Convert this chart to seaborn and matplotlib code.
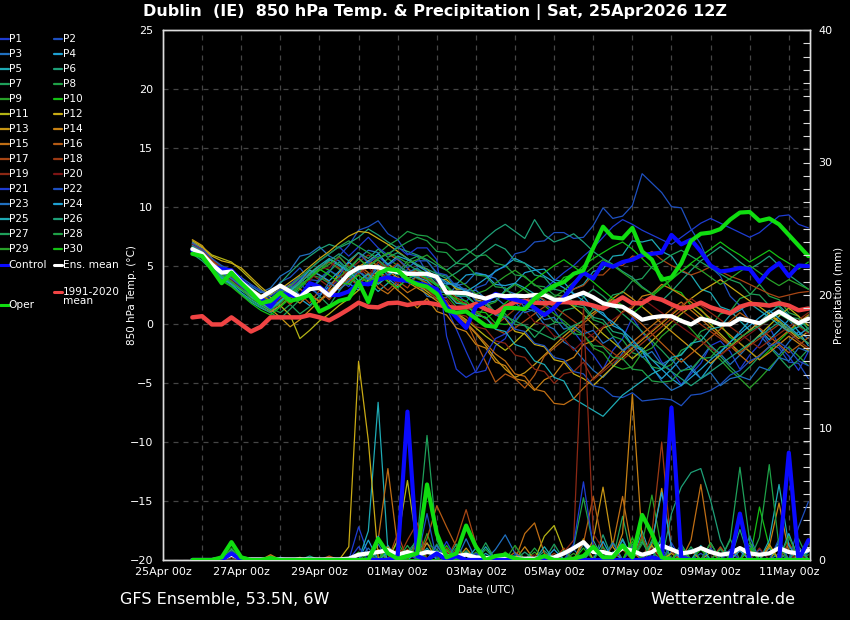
import numpy as np
import pandas as pd
import matplotlib
matplotlib.use("Agg")
import matplotlib.pyplot as plt
import matplotlib.dates as mdates
from matplotlib.lines import Line2D
from matplotlib.ticker import MultipleLocator
import seaborn as sns

# ---------------- data ----------------
start_time = "2026-04-25 18:00"   # first forecast step, 6-hourly
n_steps = 64
tick_labels = ["25Apr 00z", "27Apr 00z", "29Apr 00z", "01May 00z", "03May 00z",
               "05May 00z", "07May 00z", "09May 00z", "11May 00z"]
tick_dates = ["2026-04-25", "2026-04-27", "2026-04-29", "2026-05-01", "2026-05-03",
              "2026-05-05", "2026-05-07", "2026-05-09", "2026-05-11"]

t_clim = [0.6,0.7,0.0,0.0,0.6,0.0,-0.6,-0.2, 0.6,0.6,0.6,0.6,0.8,0.6,0.35,0.8,
          1.3,1.85,1.5,1.45,1.8,1.85,1.65,1.8, 1.85,1.7,1.5,1.4,1.45,1.75,1.3,1.0,
          1.5,1.9,2.0,1.85,1.8,1.85,1.9,1.85, 1.8,1.6,1.35,1.8,2.3,1.8,1.8,2.3,
          2.1,1.7,1.35,1.5,1.85,1.45,1.2,0.95, 1.5,1.75,1.7,1.6,1.8,1.6,1.2,1.35]
t_mean = [6.4,6.0,5.1,4.4,4.5,3.6,2.9,2.3, 2.8,3.3,2.8,2.3,3.0,3.1,2.45,3.4,
          4.3,4.8,4.9,4.85,4.6,4.45,4.3,4.3, 4.3,4.05,2.7,2.7,2.65,2.4,2.2,2.5,
          2.4,2.45,2.4,2.5,2.5,2.1,2.1,2.4, 2.7,2.3,1.8,1.6,1.5,1.0,0.4,0.6,
          0.7,0.7,0.3,0.0,0.5,0.3,0.0,0.0, 0.5,0.3,0.1,0.6,1.1,0.6,0.1,0.5]
t_ctrl = [6.3,5.8,5.0,4.7,4.6,3.7,2.9,2.2, 1.5,2.6,2.5,2.3,3.5,3.2,2.5,2.5,
          2.8,3.5,3.4,3.8,4.0,3.8,3.7,3.5, 3.3,3.0,1.5,0.6,-0.3,1.5,1.9,2.6,
          2.3,2.1,1.9,1.4,0.8,1.4,2.3,3.4, 4.4,3.9,5.2,4.9,5.3,5.5,5.9,6.0,
          6.1,7.6,6.8,7.2,6.2,5.0,4.5,4.6, 4.8,4.7,3.6,4.6,5.2,4.1,5.0,4.95]
t_oper = [6.0,5.8,4.7,3.5,4.4,3.5,2.7,1.8, 2.0,2.7,2.0,2.2,2.5,1.1,1.5,2.0,
          2.2,3.6,1.9,4.3,4.7,4.6,3.8,3.4, 3.2,2.6,1.2,1.0,1.1,0.5,-0.1,-0.2,
          1.4,1.4,1.3,2.2,2.8,3.3,3.6,4.3, 4.6,6.5,8.3,7.4,7.3,8.2,6.2,5.5,
          3.8,4.0,5.2,7.1,7.7,7.8,8.1,8.9, 9.5,9.55,8.8,9.0,8.5,7.6,6.7,5.8]

r_mean = [0,0,0,0.1,0.4,0.1,0.05,0.05, 0.05,0.05,0.05,0.05,0.05,0.05,0.05,0.05,
          0.1,0.4,0.5,0.6,0.75,0.4,0.6,0.4, 0.6,0.5,0.25,0.3,0.4,0.2,0.15,0.1,
          0.15,0.1,0.1,0.1,0.1,0.2,0.5,0.9, 1.35,0.6,0.6,0.4,0.9,0.7,0.4,0.6,
          1.1,0.8,0.5,0.6,0.9,0.6,0.4,0.5, 0.9,0.5,0.4,0.5,0.9,0.6,0.5,0.75]
r_ctrl = [0,0,0,0,0.5,0,0,0, 0,0,0,0,0,0,0,0, 0,0,0,0,0,0.3,11.2,0.3, 0,0.5,0,0.3,0,0,0,0,
          0,0,0,0,0,0,0,0, 0,0,0,0,0,0,0,0.2, 0,11.5,0.2,0,0,0,0,0, 3.5,0,0,0,0,8.1,0,1.5]
r_oper = [0,0,0,0.2,1.35,0.2,0,0, 0.15,0,0,0,0,0,0,0, 0,0,0,1.6,0.5,0.1,0.3,0.5,
          5.7,2.0,0.2,0.5,2.6,1.0,0,0.3, 0.4,0.1,0,0,0.3,0,0,0.1, 0.3,1.0,0.2,0.2,1.1,0.2,3.4,2.0,
          0.2,0,0,0,0,0,0,0, 0,0,0,0,0,0,0,0]

t_p01 = [6.8,6.2,5.3,4.6,4.2,3.5,3.0,2.4, 2.2,2.9,3.4,4.1,3.0,2.6,3.1,3.8, 3.2,4.6,3.9,5.1,4.2,3.4,4.7,4.3,
         3.0,2.7,1.4,-0.4,-2.3,-4.1,-3.9,-1.8, -1.2,0.7,1.6,2.5,1.7,1.2,0.0,-0.6, -1.7,-2.6,-3.8,-2.2,-1.2,0.6,-0.7,-1.6,
         -3.2,-4.0,-5.1,-4.2,-3.3,-1.8,-1.4,-2.3, -3.8,-2.6,-1.7,-0.2,-1.8,-2.7,-3.9,-2.3]
t_p02 = [6.6,6.0,5.2,4.8,4.4,3.9,3.2,2.8, 2.5,3.6,4.0,4.8,3.8,3.7,4.4,5.8, 6.7,8.0,8.3,8.8,7.7,7.2,6.0,5.8,
         4.4,3.7,2.6,2.6,1.9,3.1,3.4,4.6, 4.9,6.0,6.2,7.0,7.1,7.8,7.8,7.3, 7.4,8.4,9.9,9.0,9.2,10.1,12.8,12.0,
         11.2,10.0,9.9,8.1,6.8,4.9,4.1,2.4, 1.6,0.3,-0.4,-1.6,-2.0,-3.2,-3.3,-4.6]
t_p03 = [7.0,6.5,5.6,4.5,4.0,3.6,3.3,2.7, 3.1,4.1,4.6,5.8,6.0,6.6,5.8,5.4, 4.6,5.6,6.3,6.1,4.9,4.6,3.7,3.5,
         2.4,2.2,2.3,3.3,3.5,4.4,4.2,3.9, 2.9,2.6,1.4,1.1,0.0,-0.4,-1.5,-2.0, -3.0,-3.9,-4.5,-3.6,-2.4,-1.5,-2.3,-3.6,
         -4.8,-5.6,-5.2,-4.0,-2.9,-1.8,-2.5,-3.4, -2.6,-1.7,-0.9,-1.8,-2.6,-1.5,-0.6,-1.2]
t_p04 = [6.9,6.3,5.0,4.2,3.8,3.0,2.4,1.8, 1.2,1.9,2.7,2.2,1.6,2.4,3.3,4.1, 3.5,2.9,3.8,4.6,3.9,3.2,3.9,4.2,
         3.9,3.3,3.5,3.4,4.2,4.3,4.2,3.4, 3.3,3.5,4.4,4.6,4.7,3.8,3.6,2.6, 2.4,1.3,1.0,-0.1,-0.5,-1.8,-2.2,-3.7,
         -4.6,-3.8,-2.9,-3.8,-4.6,-3.5,-2.4,-1.5, -0.6,0.3,-0.4,-1.3,-0.5,0.4,-0.6,-1.8]
t_p05 = [6.4,5.8,4.9,4.0,3.4,2.6,1.9,1.4, 1.0,1.6,2.3,3.2,4.0,4.8,5.5,5.0, 4.4,3.1,3.6,2.8,3.5,4.4,3.6,4.1,
         4.1,3.4,3.2,2.4,2.4,1.7,1.8,2.0, 2.9,3.5,3.1,2.6,2.0,1.5,2.2,3.0, 3.4,4.5,4.7,5.8,5.9,7.1,7.0,7.2,
         6.2,5.8,4.5,4.2,3.0,2.7,1.5,1.2, 0.3,-0.5,0.2,1.0,1.6,0.8,0.1,-0.7]
t_p06 = [6.0,5.4,4.6,4.0,3.5,2.9,2.4,2.0, 2.6,3.5,4.4,5.2,5.8,6.4,6.8,6.5, 6.9,7.4,8.1,7.6,7.0,6.5,6.2,5.9,
         5.5,5.0,4.6,5.2,5.9,6.5,7.3,8.0, 8.5,7.9,7.3,8.9,7.6,7.0,7.3,7.7, 7.0,6.2,5.6,5.1,4.5,4.0,3.2,2.6,
         2.0,2.8,3.7,4.6,5.4,6.0,6.6,6.0, 5.3,4.7,5.2,5.8,5.0,4.2,3.6,3.0]
t_p07 = [6.5,6.1,5.3,4.4,4.1,3.2,2.6,1.9, 1.4,1.0,1.7,0.9,1.5,2.4,1.6,2.8, 3.9,4.6,3.7,4.3,5.2,4.4,5.4,5.8,
         5.4,4.3,4.1,3.0,3.0,2.0,2.0,1.0, 0.9,0.0,-0.1,-1.1,-0.2,0.1,1.2,1.4, 2.3,3.0,2.4,1.6,0.9,0.2,-0.6,-1.4,
         -2.2,-3.1,-2.5,-1.7,-0.9,-1.8,-2.7,-3.6, -4.4,-3.6,-2.7,-1.9,-2.8,-3.7,-3.0,-2.1]
t_p08 = [6.2,5.9,5.1,4.6,4.0,3.4,2.8,2.1, 1.6,2.2,2.9,3.6,4.2,4.0,3.5,3.0, 3.6,4.4,5.2,6.0,6.7,7.2,7.9,7.6,
         7.5,7.0,6.9,6.3,6.4,5.8,5.9,5.2, 5.0,4.2,4.1,3.3,3.2,2.5,2.4,1.6, 1.4,0.4,0.1,-1.0,-1.3,-2.4,-2.7,-3.6,
         -3.8,-3.4,-2.2,-1.8,-0.6,-0.2,0.9,1.1, 2.2,2.5,3.4,2.4,2.1,1.0,0.7,-0.4]
t_p09 = [6.7,6.3,5.5,4.9,4.5,3.8,3.1,2.5, 2.0,1.5,2.2,3.0,3.9,4.6,5.3,4.7, 4.1,3.5,4.0,4.8,5.6,5.0,4.5,3.9,
         3.5,2.6,2.5,1.5,1.3,0.5,1.6,1.9, 2.8,3.4,2.9,2.3,1.6,0.9,0.3,-0.4, -0.9,-2.0,-2.4,-3.5,-3.8,-3.6,-2.4,-2.0,
         -1.0,-0.3,0.5,-0.4,-1.3,-2.2,-3.0,-3.9, -4.6,-5.4,-4.6,-3.7,-2.8,-1.9,-2.7,-3.5]
t_p10 = [6.3,5.7,4.8,4.2,3.7,3.1,2.5,2.0, 1.5,2.1,2.8,3.6,4.4,5.0,4.6,4.0, 4.7,3.6,4.4,3.5,4.2,5.1,4.3,4.7,
         4.3,3.4,3.2,2.2,2.0,1.1,1.0,0.1, 0.0,0.2,1.3,1.7,2.8,3.0,4.0,4.2, 5.0,5.6,6.1,6.6,7.0,6.4,5.6,4.8,
         4.2,3.0,2.7,1.6,1.3,0.3,0.0,-1.1, -1.6,-2.3,-3.0,-2.2,-1.4,-0.6,0.1,0.8]
t_p11 = [7.1,6.6,5.9,5.6,5.3,4.6,3.8,3.0, 2.3,1.6,0.8,-1.2,-0.5,0.3,0.9,1.6, 2.2,2.9,3.8,4.5,5.1,4.6,4.0,3.4,
         2.8,2.2,1.6,1.0,0.4,-0.3,-1.0,-1.6, -2.2,-1.5,-0.7,0.1,0.8,1.5,2.1,1.5, 0.8,0.0,-0.8,-1.5,-2.2,-2.9,-2.2,-1.4,
         -0.6,0.2,0.9,1.5,0.8,0.0,-0.8,-1.6, -2.4,-1.7,-0.9,-0.1,0.7,1.4,0.7,-0.1]
t_p12 = [6.9,6.5,5.8,5.4,5.2,4.8,4.0,3.2, 2.5,3.0,3.6,4.2,4.9,5.6,6.2,6.9, 7.5,7.9,7.8,7.3,6.8,6.2,5.6,5.0,
         4.7,3.8,3.8,3.0,3.0,2.1,1.9,0.8, 0.5,-0.6,-0.8,-1.7,-1.9,-3.0,-3.2,-4.2, -4.6,-5.2,-4.4,-3.6,-2.8,-2.0,-1.3,-0.6,
         0.1,0.8,1.5,2.2,2.8,3.3,3.8,3.2, 2.6,2.0,1.5,0.9,0.3,-0.4,-1.0,-1.6]
t_p13 = [7.2,6.7,5.6,4.7,4.2,3.5,2.7,2.0, 1.3,0.6,-0.2,0.4,1.2,2.0,2.8,3.6, 4.3,4.9,5.4,5.0,4.5,4.0,3.6,3.1,
         2.6,2.0,1.4,0.8,0.1,-0.8,-1.8,-2.9, -3.8,-4.5,-4.1,-3.4,-2.6,-1.8,-1.0,-0.3, 0.4,1.0,1.6,2.2,2.8,2.2,1.5,0.8,
         0.1,-0.6,-1.3,-2.0,-2.7,-3.3,-2.6,-1.9, -1.2,-0.5,0.2,0.8,0.2,-0.5,-1.2,-0.6]
t_p14 = [6.8,6.4,5.5,4.5,3.8,3.1,2.3,1.7, 1.1,1.6,2.4,1.8,2.6,1.9,3.0,4.4, 5.2,6.1,5.3,4.6,3.7,2.9,2.2,1.4,
         2.2,1.1,0.8,-0.3,-0.6,-1.7,-2.0,-3.2, -3.5,-4.6,-4.8,-5.6,-4.7,-4.3,-3.2,-2.8, -1.7,-1.4,-0.3,0.0,1.1,1.4,2.4,2.6,
         3.4,3.0,2.5,1.9,1.2,0.5,-0.2,-0.9, -1.6,-2.3,-3.0,-2.4,-1.7,-1.0,-1.6,-2.2]
t_p15 = [6.6,6.2,5.4,4.7,4.3,3.7,3.0,2.5, 2.0,2.6,3.4,3.0,2.5,2.0,2.6,3.4, 4.2,5.0,4.4,3.1,2.6,3.4,2.7,3.2,
         3.0,2.4,1.7,1.0,0.2,-0.7,-1.6,-2.5, -3.1,-4.2,-4.4,-5.5,-5.7,-6.7,-6.8,-6.3, -5.4,-4.6,-3.8,-3.0,-2.2,-1.5,-0.8,-0.1,
         0.6,1.3,1.9,1.2,0.5,-0.3,-1.0,-1.8, -2.6,-3.3,-2.6,-1.9,-1.2,-0.5,0.2,0.8]
t_p16 = [6.5,6.0,5.1,4.3,3.9,3.3,2.6,2.2, 1.8,2.4,3.2,4.0,4.6,4.2,3.6,3.0, 3.6,4.3,5.0,5.6,6.0,5.5,4.8,4.0,
         3.5,2.4,2.0,0.8,0.3,-1.5,-3.2,-4.9, -4.2,-4.6,-5.4,-4.3,-2.7,-2.0,-1.3,-0.6, 0.1,0.8,1.5,2.1,1.4,0.7,0.0,-0.8,
         -1.6,-2.4,-3.2,-2.5,-1.8,-1.1,-0.4,0.3, 1.0,0.4,-0.3,-1.0,-1.7,-2.4,-1.8,-1.1]
t_p17 = [6.7,6.3,5.3,4.6,4.1,3.4,2.9,2.3, 1.9,2.5,1.7,2.6,1.8,2.9,2.1,3.2, 3.9,3.3,4.4,3.6,2.9,3.7,3.1,4.2,
         3.8,2.9,2.8,1.9,1.8,0.8,0.6,-0.4, -0.8,-0.3,0.3,0.9,1.5,2.0,2.5,3.0, 3.3,4.2,4.2,5.0,5.0,5.8,5.7,6.2,
         5.5,5.0,4.6,4.2,4.5,4.9,4.5,4.1, 3.8,3.4,3.0,2.6,2.3,2.5,2.7,2.8]
t_p18 = [6.6,6.1,5.2,4.5,4.0,3.3,2.7,2.1, 1.6,2.2,3.0,3.7,4.3,4.9,5.3,4.8, 4.2,4.9,4.1,5.3,4.6,5.2,4.3,4.6,
         4.0,3.5,2.9,2.3,1.7,1.1,0.5,-0.1, 0.6,1.3,2.0,2.6,2.1,1.5,0.9,0.3, -0.4,-1.1,-1.8,-2.4,-3.0,-2.3,-1.6,-0.9,
         -0.2,0.5,1.2,0.6,0.0,-0.6,-1.2,-1.8, -2.4,-1.8,-1.2,-0.6,0.0,-0.7,-1.4,-2.0]
t_p19 = [6.8,6.4,5.5,4.8,4.3,3.6,3.0,2.4, 1.8,2.4,3.1,3.7,4.3,3.8,3.2,3.9, 4.6,5.3,5.9,5.4,4.9,4.4,3.9,3.4,
         3.0,2.1,1.9,0.9,0.7,-0.2,-0.4,-1.4, -1.6,-2.6,-2.8,-3.8,-4.0,-5.0,-4.2,-4.0, -3.2,-4.7,-4.0,-3.3,-2.6,-1.9,-1.2,-0.5,
         0.2,0.9,1.6,2.2,1.6,1.0,0.4,-0.2, -0.8,-1.4,-2.0,-1.4,-0.8,-0.2,0.4,1.0]
t_p20 = [6.5,5.9,5.0,4.3,3.8,3.1,2.5,2.0, 1.5,2.2,2.4,3.5,3.7,4.7,4.8,5.7, 5.0,4.2,4.9,3.8,4.4,3.5,4.0,3.5,
         3.2,2.3,2.2,1.3,1.2,1.4,2.4,2.6, 2.4,1.4,1.2,0.2,0.0,-1.0,-1.2,-2.2, -1.4,-0.8,-0.2,0.4,1.0,1.6,2.2,1.6,
         1.0,0.4,-0.2,-0.8,-1.4,-2.0,-2.6,-2.0, -1.4,-0.8,-0.2,0.4,1.0,0.4,-0.2,-0.8]
t_p21 = [6.4,5.9,5.0,4.3,3.9,3.2,2.6,2.1, 1.7,2.3,3.1,3.9,4.7,5.4,6.0,6.6, 5.8,6.6,7.4,6.5,5.9,6.6,5.9,6.5,
         6.5,5.5,-1.0,-3.8,-4.5,-4.0,-2.5,-1.2, -0.8,0.3,1.3,2.2,3.0,3.7,4.4,5.0, 5.8,6.5,7.4,8.3,8.9,8.5,8.0,7.6,
         7.2,6.8,7.4,8.0,8.6,9.0,8.6,8.2, 7.8,7.4,7.8,8.5,9.2,9.3,8.5,8.2]
t_p22 = [6.9,6.4,5.6,5.0,4.6,4.0,3.4,2.9, 2.4,3.0,2.5,3.4,2.8,3.9,4.6,4.1, 5.4,6.1,5.2,5.8,5.0,5.6,4.8,5.4,
         5.4,4.4,4.2,3.2,3.0,2.0,1.8,0.8, 0.6,-0.4,-0.6,-1.6,-1.8,-2.8,-3.0,-4.0, -4.2,-5.2,-5.4,-6.1,-6.2,-5.8,-6.5,-6.4,
         -6.3,-6.4,-6.9,-6.0,-5.9,-5.6,-5.1,-4.3, -3.9,-3.1,-2.7,-1.9,-1.5,-2.1,-3.1,-3.5]
t_p23 = [6.7,6.2,5.1,4.4,3.9,3.3,2.7,2.2, 1.8,2.8,3.3,2.5,3.2,2.4,3.6,2.9, 3.7,4.5,3.8,4.9,4.2,5.1,4.4,4.8,
         4.0,4.1,3.4,3.5,2.8,2.9,2.2,2.3, 1.6,1.9,1.0,1.3,0.4,0.6,-0.4,-0.1, -0.8,-0.5,-1.6,-1.1,-2.2,-1.7,-2.8,-2.3,
         -3.4,-2.9,-4.0,-3.5,-4.6,-4.1,-5.2,-4.6, -4.4,-4.7,-3.6,-3.9,-2.8,-3.1,-2.0,-2.3]
t_p24 = [6.5,5.8,4.7,3.9,3.4,2.7,2.1,1.6, 1.2,1.9,2.8,3.7,4.6,4.2,3.7,4.5, 5.3,4.6,5.4,6.0,5.1,5.8,5.5,5.0,
         4.5,4.1,3.6,3.2,2.8,3.3,3.9,4.5, 5.0,5.6,5.2,4.7,4.1,3.6,3.1,2.6, 2.0,1.4,0.8,0.2,-0.5,-1.3,-2.2,-3.0,
         -3.8,-4.6,-5.2,-4.5,-3.8,-3.0,-2.3,-1.5, -0.8,-0.1,0.6,1.2,0.5,-0.2,-0.9,-0.3]
t_p25 = [6.6,6.0,5.0,4.1,3.6,2.9,2.3,1.8, 1.3,2.0,2.8,3.5,4.3,5.0,5.6,5.1, 4.5,3.7,4.3,3.4,4.1,4.8,4.2,4.0,
         3.7,2.8,2.7,1.8,1.7,0.8,0.6,-0.4, -0.6,-1.7,-2.0,-3.1,-3.4,-4.5,-4.8,-6.3, -6.8,-7.3,-7.8,-6.9,-6.0,-5.4,-4.8,-4.2,
         -3.8,-2.8,-2.6,-1.6,-1.4,-0.4,-0.2,0.8, 1.2,1.8,1.2,0.6,0.0,-0.6,-0.2,0.4]
t_p26 = [6.1,5.6,4.8,4.1,3.6,3.0,2.5,2.1, 1.7,2.3,3.0,3.6,4.2,4.8,5.4,6.0, 5.4,6.1,5.6,6.4,5.7,6.1,5.6,5.1,
         4.7,4.3,3.9,4.4,5.0,5.6,6.2,6.8, 6.4,5.4,5.2,4.2,4.0,3.0,2.8,1.8, 1.6,0.6,0.4,-0.6,-0.8,-1.8,-2.0,-3.0,
         -3.4,-4.0,-4.6,-5.2,-4.6,-4.0,-3.4,-2.8, -2.2,-1.6,-1.0,-0.4,0.2,-0.4,-1.0,-1.6]
t_p27 = [6.3,5.7,4.6,3.8,3.3,2.6,2.0,1.5, 1.0,0.5,1.3,2.1,2.9,3.7,4.5,5.3, 4.6,5.6,4.9,5.5,4.7,4.2,5.1,4.6,
         4.3,3.4,3.3,2.5,2.5,1.7,1.7,0.9, 0.7,0.3,-0.1,-0.5,-0.9,-1.3,-0.7,-0.1, 0.3,1.3,1.5,2.5,2.7,3.7,3.9,4.9,
         5.3,5.9,6.3,5.8,5.3,4.8,4.3,3.8, 3.5,2.6,2.5,1.6,1.5,0.6,0.5,-0.4]
t_p28 = [6.6,6.1,5.2,4.5,4.1,3.4,2.8,2.3, 1.9,2.6,3.3,4.0,4.7,5.4,6.0,6.6, 7.1,6.6,6.1,5.6,6.0,6.5,7.0,7.4,
         7.1,6.2,6.1,5.2,5.1,4.2,4.1,3.2, 3.1,2.2,2.1,1.2,1.1,0.2,0.1,-0.8, -0.9,-1.8,-1.9,-2.8,-2.9,-3.8,-3.9,-4.8,
         -4.9,-4.8,-3.9,-3.8,-2.9,-2.8,-1.9,-1.8, -1.1,-0.6,-0.1,0.4,0.9,0.4,-0.1,-0.6]
t_p29 = [6.4,5.9,5.0,4.3,3.6,3.0,2.2,1.7, 1.2,1.8,2.6,3.4,3.9,4.6,5.1,5.8, 4.8,5.6,4.9,5.6,6.1,5.7,5.2,5.5,
         5.9,5.2,4.6,3.9,3.3,2.6,2.9,3.5, 4.1,4.6,4.0,3.4,2.8,2.3,2.9,3.6, 4.2,4.9,5.5,5.0,4.4,3.8,3.1,2.6,
         3.2,3.9,4.5,5.1,4.6,4.0,3.4,3.9, 4.5,5.0,4.4,3.8,3.3,3.8,3.4,3.0]
t_p30 = [6.2,5.6,4.5,3.7,3.2,2.5,1.8,1.2, 0.8,1.5,2.4,3.2,4.0,4.7,4.2,3.6, 3.4,4.2,3.5,4.4,3.6,3.1,3.9,4.4,
         3.9,3.3,2.7,2.1,1.6,1.0,0.5,1.1, 1.8,2.5,3.1,3.8,4.4,5.0,5.5,4.9, 4.3,3.6,2.9,2.2,1.6,0.9,1.6,2.4,
         3.1,3.8,4.5,5.2,5.8,6.4,7.0,6.4, 5.9,5.3,5.8,6.3,5.7,5.2,4.7,5.3]

r_p01 = [0,0,0,0,0.3,0,0,0, 0,0,0,0,0,0,0,0, 0,2.5,0.4,0,0.6,0,0,0, 0,0,0.5,0.3,0,0,0,0,
         0,0.4,0,0,0,0,0,0, 0,1.0,0,0,0,0.8,0,0, 0.3,0,0,0,0,0,0,0.6, 0,0,0,0,0,1.2,0,0]
r_p02 = [0,0,0,0,0.2,0,0,0, 0,0,0,0,0,0,0,0, 0,0,0,0,0,0,0.5,1.2, 1.2,0.8,0,0,0,0.4,0,0,
         0,0,0,0,0,0,0.6,0, 0,0,0,0,0,0,0,1.0, 0,0,0,0,0.5,0,0,0, 0,0,0.8,0,0,0,0.4,0]
r_p03 = [0,0,0,0,0.5,0,0,0, 0,0.2,0,0,0,0,0,0, 0,0,0,1.2,0,0.8,0,0, 0,0,0,0,1.6,0,0.3,0,
         0,0,0,0,0,0,0,0.8, 0,0,0,0,1.5,0,0,0, 0,0.6,0,0,0,0,0,0, 0,1.1,0,0,0.5,0,0,0]
r_p04 = [0,0,0,0,0.8,0,0,0, 0.3,0,0,0,0,0,0,0, 0,0,1.5,0,1.1,0,0,0, 0,0.7,0,0,0,0,0,0,
         0.5,0,0,0,0,0,0,0, 1.2,0,0,0.6,0,0,0,0, 1.8,0,0,0,0,1.3,0,0, 0,0,0,0.9,0,0,0,0.6]
r_p05 = [0,0,0,0,0.4,0,0,0, 0,0,0,0,0,0,0,0, 0,0,2.2,11.9,0.7,0,0,0, 0,0,0.6,0,0,0,1.0,0,
         0,0,0,0,0,0,0,0, 0,1.5,0,0,0,0,2.2,0, 0,0,0,0.8,0,0,0,0, 0,0,0,0,1.4,0,0,0]
r_p06 = [0,0,0,0,0.6,0,0,0, 0,0,0,0,0.3,0,0,0, 0,0,0,0,0.9,0,0,1.8, 0,0,0,0.9,0,0,0,0,
         0,0,0,0,0.7,0,0,0, 0,0,1.9,0,0,0,0,0.6, 0,0,1.2,0,0,0,0,0, 2.3,0,0,0,0,0,0,0]
r_p07 = [0,0,0,0,0.3,0,0,0, 0,0,0,0,0,0,0,0, 0,0,0,0,0,0,0.6,1.5, 9.4,1.5,0,0,0.7,0,0,0,
         0,0,0,0,0,1.2,0,0, 0,0,0,0,3.3,0,0,0, 0,1.0,0,0,0,0,0,1.6, 0,0,0,0,0,0.7,0,0]
r_p08 = [0,0,0,0,0.5,0,0,0, 0,0,0,0,0,0,0,0, 0,0,0,0.6,0,0,0,0, 0,1.2,0,0,0,0,0.8,0,
         0,0,0,0,0,0,0,1.0, 4.7,1.1,0,0,0,0,0,0, 1.4,0,0,0,0,0,0.9,0, 0,0,0,0,0,0,1.6,0]
r_p09 = [0,0,0,0,0.9,0,0,0, 0,0,0,0,0,0,0,0, 0,0,0,0,0.5,0,0,0, 2.0,0,0,0,0,0.6,0,0,
         0,0,0,0.6,0,0,0,0, 0,0,0,1.4,0,0,1.2,4.9, 0.8,0,0,0,0,0,0,0, 0,1.3,0,0,0,0,0,0.4]
r_p10 = [0,0,0,0,0.4,0,0,0, 0,0,0,0,0,0,0,0, 0,0.6,0,0,0,1.4,0,0, 0,0,1.1,0,0,0,0,0,
         0,0.3,0,0,0,0,0,0, 0,0.9,0,0,0,1.7,0,0, 0,0,0,0,0.8,0,0,0, 0,0,4.0,1.0,0,0,0,0]
r_p11 = [0,0,0,0,0.2,0,0,0, 0,0,0,0.2,0,0,0,0, 0,0,0,0,0,1.5,6.0,1.0, 0,0,0,0.6,0,0,0,0,
         0,0,0,0,1.8,2.6,0.7,0, 0,0,0,0,0,0,0,1.1, 0,0,0,0,0,0.6,0,0, 0,0,0,0,1.0,0,0,0]
r_p12 = [0,0,0,0,0.3,0,0,0, 0,0,0,0,0,0,0,0, 1.0,15.0,9.0,0.2,0,0,0,0, 0,0.5,0,0,0,0,0,0.4,
         0,0,0,0,0,0,0,0, 1.6,0,0,0,0,0,0,0, 0,0.5,0,0,0,0,0,0, 0.9,0,0,0,0,0,0,0]
r_p13 = [0,0,0,0,0.5,0,0,0, 0,0,0,0,0,0,0,0, 0,0,0,0.8,0,0,0,0, 1.3,0,0,0,0.9,0,0,0,
         0,0,0,0,0,0,0,0, 0,1.5,5.5,1.0,0,0,0,1.2, 5.4,0.9,0,0,0,0,0,0, 0,0,0,1.2,0,0,0,0]
r_p14 = [0,0,0,0,0.4,0,0,0, 0.4,0,0,0,0,0,0,0, 0,0,0,0,1.0,0,0,0, 0,0,0.7,0,0,0,0,0,
         0,0,1.0,0,0,0,0,0, 0,0,0,0,2.0,12.5,1.5,0, 0,0,0,0.7,0,0,0,0, 0,0,0,1.0,4.3,0.6,0,0]
r_p15 = [0,0,0,0,0.6,0,0,0, 0,0,0,0,0,0,0,0, 0,0,0,1.5,6.9,1.0,0,0, 0,0,0,0.5,0,0,0,0,
         0,0,2.0,2.8,0.5,0,0,0, 0,0,0,1.1,4.8,0.6,0,0, 0,0,0,1.5,5.7,0.8,0,0, 0,0,0,0,0,0,0.9,0]
r_p16 = [0,0,0,0,0.3,0,0,0, 0,0,0,0,0,0,0.3,0, 0,0,0,0,0,0,0.8,0, 1.6,4.1,2.5,1.0,0,0,0,0,
         0,0.6,0,0,0,0,0,0, 1.3,4.8,0.9,0,0,0,0,0, 0,0,0.9,0,0,0,0,0, 0,0.8,0,0,0,0,0,0]
r_p17 = [0,0,0,0,0.5,0,0,0, 0,0,0,0,0,0,0.2,0, 0,0,0,0,0,2.0,0,1.4, 0,0,0,1.5,3.8,1.2,0,0,
         0,0,0,0,0,0,0.9,0, 0,0,0,0,0,0,1.8,0, 0,0,0,0,0,0,1.0,0, 0,0,0,0,0,1.3,0,0]
r_p18 = [0,0,0,0,0.4,0,0,0, 0,0,0,0,0,0,0,0, 0,0,0,0,0,0,1.5,2.8, 0,0,0.9,0,0,0,0,0,
         0,0,0,0,0,0.5,0,0, 0,0,0,0,0.8,0,0,2.0, 8.9,0.6,0,0,0,0,0,0, 0.7,0,0,0,0,0,0,0]
r_p19 = [0,0,0,0,0.3,0,0,0, 0,0,0,0,0,0,0,0, 0,0,0,0,0,0.9,0,0, 0,0,0.6,0,0,0,0,0.3,
         0,0,0,0,0,0,0.6,1.5, 19.0,2.0,0.8,0,0,0,0,0, 0,0,0.6,0,0,0,0,0, 0,0,0.9,0,0,0,0,0]
r_p20 = [0,0,0,0,0.2,0,0,0, 0,0,0,0,0,0,0,0, 0,0,0,0,0,0,0,0.7, 0,0,0,0.8,0,0,0,0,
         0,0,0,0.4,0,0,0,0, 0,1.3,0,0,0,0,0,0.9, 0,0,0,0,0,0,0,0.7, 0,0,0,0,0,0,0.5,0]
r_p21 = [0,0,0,0,0.6,0,0,0, 0,0,0,0,0,0,0,0, 0,1.0,0,0,0,0,0.5,0, 0,0,1.4,0,0,0.5,0,0,
         0,0,0,0,0,0,0,1.2, 5.9,1.0,0,0,0,0,0,0, 0,1.3,0,0,0,0,0,0.8, 0,0,0,0,0,0,1.0,0]
r_p22 = [0,0,0,0,0.3,0,0,0, 0,0,0,0,0,0,0,0, 0,0,0,0,0.8,0,0,0, 3.5,0,0,0,0.6,0,0,0,
         0,0,0,0,0.4,0,0,0, 0,0,0,0,0,1.0,0,0, 0,0,0,0,0,0.9,0,0, 0,0,0,0,1.6,0,2.5,4.4]
r_p23 = [0,0,0,0,0.7,0,0,0, 0,0,0,0,0,0,0,0, 0,0,0.9,0,0,0,0,0, 0,1.1,0,0,0,0,0,0.8,
         1.9,0.5,0,0,0,0,0,0, 0,0,0,1.3,0,0,0,0, 0,0,0.7,0,0,0,0,0, 0,1.8,0,0,0,0,0,0]
r_p24 = [0,0,0,0,0.5,0,0,0, 0,0,0,0,0,0,0,0, 0,0,0,1.8,0,0,0,0.6, 0,0,0,0,0,0.9,0,0,
         0,0,0,0,0,0.8,0,0, 0,0,1.4,0,0,0,0,1.4, 5.1,1.0,0,0,0,0,0,0, 0.7,0,0,0,0,2.0,0,0]
r_p25 = [0,0,0,0,0.4,0,0,0, 0,0,0,0,0,0,0,0, 0,0,0,0,0.6,0,0,0, 0.9,0,0,0,0,0,0.5,0,
         0,0,0,0,1.0,0,0,0, 0,0,0,0,1.6,0,0,0, 0,0,0,0,1.1,0,0,0, 0,0,0,1.5,5.7,1.1,0,0]
r_p26 = [0,0,0,0,0.6,0,0,0, 0,0,0,0,0,0,0,0, 0,0,0,0,0,0.7,0,0, 0,0,0,1.2,0,0,0,0,
         0,0,0.6,0,0,0,0,0, 0,0.8,0,0,0,0,1.4,0, 0,3.5,5.5,6.6,6.9,4.5,1.5,0, 0,0,0,0,0,0,1.0,0]
r_p27 = [0,0,0,0,0.4,0,0,0, 0,0,0,0,0,0,0,0, 0,0,0,0.6,0,0,0,0, 0,0.8,0,0,0,0,1.3,0,
         0,0,0,0,0,0,0.7,0, 0,0,0,0,0,1.2,0,0, 0,0,0,1.0,0,0,0,1.5, 7.0,1.4,0,0,0,0,0,0.8]
r_p28 = [0,0,0,0,0.5,0,0,0, 0,0,0,0,0,0,0,0, 0,0,0,0,0,0,1.1,0, 0,0,0,0,0.6,0,0,0,
         0,0,0,0.9,0,0,0,0, 0,0,1.0,0,0,0,0,1.5, 0,0,0,0,0,0,0.8,0, 0,0,1.7,7.2,1.0,0,0,0]
r_p29 = [0,0,0,0,0.7,0,0,0, 0,0,0,0,0,0,0,0, 0,0,0.5,0,0,0,0,1.2, 0,0,0,0.6,0,0,0,0,
         0,1.1,0,0,0,0,0,0.5, 0,0,0,0,0,0,1.6,0, 0,0,0,0,0,1.3,0,0, 0,0,0,0,0,1.8,0,0]
r_p30 = [0,0,0,0,0.3,0,0,0, 0,0,0,0,0,0,0,0, 0,0,0,0,0.9,0,0,0, 0,0,0.8,0,0,0,0,0,
         0.6,0,0,0,0,0,0,0, 0.9,0,0,0,0,1.4,0,0, 0,0,1.0,0,0,0,0,0, 0,0.9,0,0,0,0,0,1.2]

member_names = [f"P{k}" for k in range(1, 31)]
base_colors = ["#1e3cd2", "#1e50c0", "#2070c0", "#1ea0d2", "#1eaab4", "#1ea078",
               "#1ea05a", "#1ea046", "#28a028", "#14c014", "#b4b414", "#c8aa14",
               "#c89614", "#c88214", "#c06e14", "#b45a14", "#a84614", "#9c3a14",
               "#8c2814", "#7c1414"]
member_colors = base_colors + base_colors[:10]

# ---------------- assemble ----------------
member_temps = [t_p01, t_p02, t_p03, t_p04, t_p05, t_p06, t_p07, t_p08, t_p09, t_p10,
                t_p11, t_p12, t_p13, t_p14, t_p15, t_p16, t_p17, t_p18, t_p19, t_p20,
                t_p21, t_p22, t_p23, t_p24, t_p25, t_p26, t_p27, t_p28, t_p29, t_p30]
member_rain = [r_p01, r_p02, r_p03, r_p04, r_p05, r_p06, r_p07, r_p08, r_p09, r_p10,
               r_p11, r_p12, r_p13, r_p14, r_p15, r_p16, r_p17, r_p18, r_p19, r_p20,
               r_p21, r_p22, r_p23, r_p24, r_p25, r_p26, r_p27, r_p28, r_p29, r_p30]

times = pd.date_range(start_time, periods=n_steps, freq="6h")
df_m = pd.DataFrame({
    "time": np.tile(times, len(member_names)),
    "member": np.repeat(member_names, n_steps),
    "temp": np.concatenate(member_temps),
    "rain": np.concatenate(member_rain),
})
df_main = pd.DataFrame({"time": times, "clim": t_clim, "mean": t_mean, "ctrl": t_ctrl,
                        "oper": t_oper, "r_mean": r_mean, "r_ctrl": r_ctrl, "r_oper": r_oper})
palette = dict(zip(member_names, member_colors))

# ---------------- style ----------------
sns.set_theme(style="dark")
plt.rcParams.update({
    "figure.facecolor": "black", "axes.facecolor": "black", "savefig.facecolor": "black",
    "text.color": "white", "axes.labelcolor": "white",
    "xtick.color": "white", "ytick.color": "white",
})
plt.rcParams["font.family"] = ["DejaVu Sans"]

W, H = 850, 620
fig = plt.figure(figsize=(W / 100, H / 100), dpi=100)
ax = fig.add_axes([163 / W, 60 / H, 647 / W, 530 / H])
ax.set_facecolor("black")

C_CTRL, C_OPER, C_MEAN, C_CLIM = "#0a0aff", "#10dd10", "#ffffff", "#f04444"

sns.lineplot(data=df_m, x="time", y="temp", hue="member", palette=palette,
             linewidth=0.9, legend=False, estimator=None, sort=False, ax=ax, zorder=3)
sns.lineplot(data=df_main, x="time", y="clim", color=C_CLIM, linewidth=3.2, ax=ax, zorder=5)
sns.lineplot(data=df_main, x="time", y="ctrl", color=C_CTRL, linewidth=3.0, ax=ax, zorder=6)
sns.lineplot(data=df_main, x="time", y="mean", color=C_MEAN, linewidth=3.0, ax=ax, zorder=7)
sns.lineplot(data=df_main, x="time", y="oper", color=C_OPER, linewidth=3.0, ax=ax, zorder=8)

ax.set_ylim(-20, 25)
ax.set_yticks(np.arange(-20, 26, 5))
ax.set_xlim(pd.Timestamp("2026-04-25 00:00"), pd.Timestamp("2026-05-11 13:00"))
ax.set_xticks(pd.to_datetime(tick_dates))
ax.set_xticklabels(tick_labels)
ax.xaxis.set_minor_locator(mdates.DayLocator())

grid_kw = dict(color="#454545", linestyle=(0, (4, 4)), linewidth=0.9)
ax.grid(False)
ax.grid(True, which="major", axis="y", **grid_kw)
ax.grid(True, which="both", axis="x", **grid_kw)
ax.set_axisbelow(True)

ax.tick_params(axis="y", which="both", length=0, pad=7, labelsize=8, labelcolor="white")
ax.tick_params(axis="x", which="both", length=0, pad=5, labelsize=8, labelcolor="white")
ax.set_ylabel("850 hPa Temp. (°C)", fontsize=7.5, color="white")
ax.yaxis.set_label_coords(-0.040, 0.5)
ax.set_xlabel("Date (UTC)", fontsize=7.5, color="white")
ax.xaxis.set_label_coords(0.5, -0.046)

for sp in ax.spines.values():
    sp.set_color("#dddddd")
    sp.set_linewidth(1.0)
    sp.set_visible(True)

# precipitation axis
ax2 = ax.twinx()
sns.lineplot(data=df_m, x="time", y="rain", hue="member", palette=palette,
             linewidth=0.9, legend=False, estimator=None, sort=False, ax=ax2, zorder=3)
sns.lineplot(data=df_main, x="time", y="r_mean", color=C_MEAN, linewidth=3.0, ax=ax2, zorder=6)
sns.lineplot(data=df_main, x="time", y="r_ctrl", color=C_CTRL, linewidth=3.0, ax=ax2, zorder=7)
sns.lineplot(data=df_main, x="time", y="r_oper", color=C_OPER, linewidth=3.0, ax=ax2, zorder=8)
ax2.set_ylim(0, 40)
ax2.set_yticks([0, 10, 20, 30, 40])
ax2.yaxis.set_minor_locator(MultipleLocator(1))
ax2.grid(False)
ax2.tick_params(axis="y", which="both", direction="in", length=5, width=0.8,
                color="#dddddd", pad=6, labelsize=8, labelcolor="white")
ax2.set_ylabel("Precipitation (mm)", fontsize=7.5, color="white")
ax2.yaxis.set_label_coords(1.037, 0.5)
for sp in ax2.spines.values():
    sp.set_color("#dddddd")
    sp.set_linewidth(1.0)
ax2.set_xlim(ax.get_xlim())

# ---------------- texts ----------------
def fx(px):
    return px / W


def fy(py):
    return 1 - py / H


fig.text(fx(435), fy(12), "Dublin  (IE)  850 hPa Temp. & Precipitation | Sat, 25Apr2026 12Z",
         ha="center", va="center", fontsize=11.5, fontweight="bold", color="white")
fig.text(fx(120), fy(599), "GFS Ensemble, 53.5N, 6W", ha="left", va="center",
         fontsize=11.5, color="white")
fig.text(fx(650), fy(599), "Wetterzentrale.de", ha="left", va="center",
         fontsize=11.5, color="white")

# ---------------- legend ----------------
def legend_entry(x_line, x_text, y, color, label, lw=1.6):
    fig.add_artist(Line2D([fx(x_line), fx(x_line + 8.5)], [fy(y), fy(y)],
                          transform=fig.transFigure, color=color, linewidth=lw))
    fig.text(fx(x_text), fy(y), label, ha="left", va="center", fontsize=7.6,
             color="white", linespacing=0.95)


for k, (name, col) in enumerate(zip(member_names, member_colors)):
    row, colno = divmod(k, 2)
    y = 39 + 15 * row
    if colno == 0:
        legend_entry(0, 8.5, y, col, name)
    else:
        legend_entry(53.5, 63, y, col, name)
legend_entry(0, 8.5, 264.5, C_CTRL, "Control", lw=2.2)
legend_entry(53.5, 63, 264.5, C_MEAN, "Ens. mean", lw=2.2)
fig.add_artist(Line2D([fx(53.5), fx(62)], [fy(292), fy(292)], transform=fig.transFigure,
                      color=C_CLIM, linewidth=2.2))
fig.text(fx(63), fy(286.5), "1991-2020\nmean", ha="left", va="top", fontsize=7.6,
         color="white", linespacing=0.95)
legend_entry(0, 8.5, 305.5, C_OPER, "Oper", lw=2.2)

fig.savefig("out.png", dpi=100, facecolor="black")
